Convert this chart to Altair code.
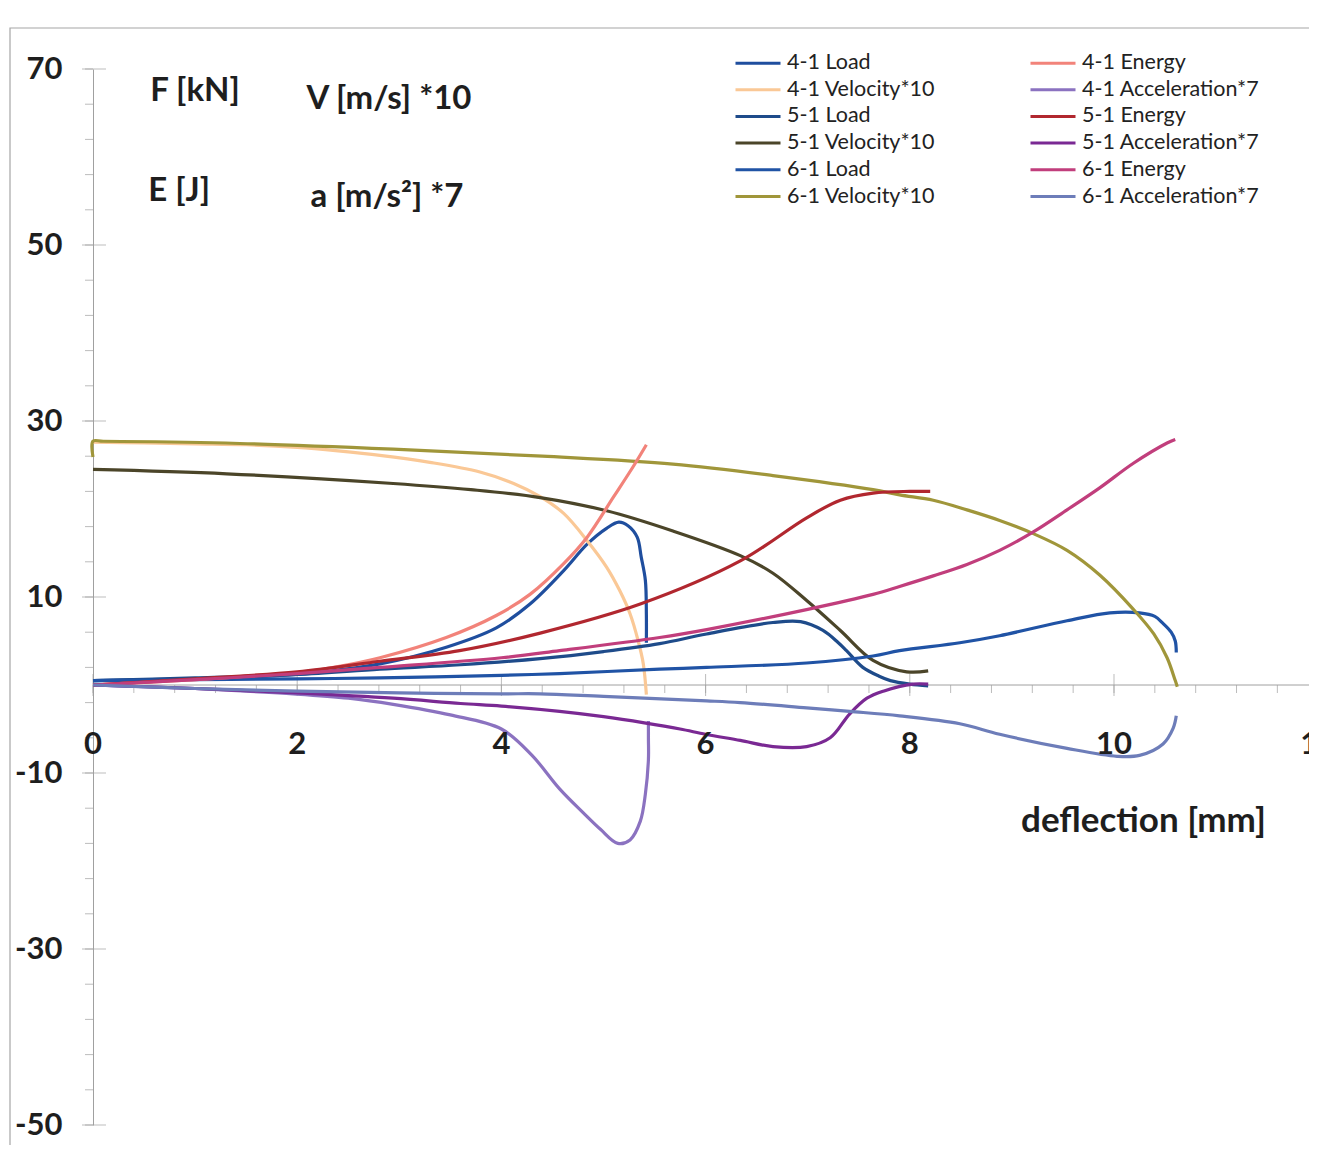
import altair as alt
import pandas as pd

# ---------------- data ----------------
l41_x = [0, 0.5, 1.0, 1.5, 2.0, 2.4, 2.81, 3.46, 3.95, 4.28, 4.61, 4.84, 5.03, 5.15, 5.24, 5.33, 5.37, 5.41, 5.42, 5.42]
l41_y = [0.5, 0.6, 0.7, 0.9, 1.2, 1.7, 2.4, 4.3, 6.5, 9.2, 13.0, 16.0, 17.8, 18.5, 18.1, 16.8, 14.5, 11.9, 8.0, 4.8]

e41_x = [0, 0.5, 1.0, 1.5, 2.0, 2.4, 2.81, 3.46, 3.95, 4.28, 4.61, 4.84, 5.10, 5.29, 5.42]
e41_y = [0.0, 0.3, 0.6, 1.0, 1.4, 2.1, 3.1, 5.4, 7.9, 10.3, 13.8, 16.8, 21.4, 24.8, 27.3]

v41_x = [0, 0.5, 1.0, 1.5, 2.0, 2.4, 2.81, 3.30, 3.79, 4.12, 4.38, 4.61, 4.84, 5.03, 5.16, 5.26, 5.34, 5.39, 5.42]
v41_y = [27.6, 27.5, 27.4, 27.3, 27.0, 26.6, 26.1, 25.3, 24.2, 22.9, 21.4, 19.5, 16.4, 13.4, 10.7, 8.1, 5.0, 2.4, -1.1]

a41_x = [0, 0.5, 1.0, 1.5, 1.96, 2.5, 2.94, 3.5, 4.0, 4.3, 4.57, 4.8, 4.97, 5.14, 5.26, 5.36, 5.41, 5.44, 5.44, 5.44]
a41_y = [0.0, -0.2, -0.4, -0.7, -1.0, -1.5, -2.2, -3.4, -5.0, -8.0, -11.8, -14.5, -16.4, -18.0, -17.6, -15.5, -12.4, -8.5, -6.0, -4.1]

l51_x = [0, 1.0, 2.0, 2.81, 3.6, 4.38, 5.0, 5.55, 6.01, 6.66, 6.93, 7.15, 7.3, 7.38, 7.54, 7.7, 7.81, 8.0, 8.18]
l51_y = [0.5, 0.8, 1.2, 1.8, 2.3, 3.0, 3.8, 4.7, 5.8, 7.1, 7.2, 6.2, 4.8, 3.9, 2.0, 1.0, 0.5, 0.1, -0.1]

e51_x = [0, 1.0, 2.0, 2.81, 3.59, 4.38, 5.36, 6.34, 6.99, 7.32, 7.64, 8.0, 8.2]
e51_y = [0.0, 0.7, 1.5, 2.7, 3.9, 5.9, 9.2, 14.1, 19.0, 21.0, 21.8, 22.0, 22.0]

v51_x = [0, 1.31, 2.94, 3.7, 4.38, 5.03, 5.68, 6.34, 6.66, 6.99, 7.32, 7.64, 7.97, 8.18]
v51_y = [24.5, 24.0, 22.9, 22.2, 21.3, 19.8, 17.5, 14.7, 12.7, 9.6, 6.2, 2.8, 1.5, 1.6]

a51_x = [0, 1.0, 2.0, 2.94, 3.6, 4.0, 4.57, 5.0, 5.4, 5.75, 6.0, 6.34, 6.66, 6.99, 7.22, 7.41, 7.58, 7.74, 8.03, 8.18]
a51_y = [0.0, -0.4, -0.9, -1.5, -2.1, -2.4, -3.0, -3.6, -4.3, -5.0, -5.6, -6.3, -7.0, -7.0, -6.0, -3.3, -1.5, -0.7, 0.1, 0.1]

l61_x = [0, 1.0, 2.0, 2.81, 4.0, 4.57, 5.55, 6.01, 6.99, 7.64, 7.9, 8.49, 8.88, 9.54, 9.96, 10.25, 10.4, 10.48, 10.56, 10.6, 10.61]
l61_y = [0.5, 0.6, 0.7, 0.8, 1.1, 1.3, 1.8, 2.0, 2.5, 3.3, 3.9, 4.8, 5.6, 7.3, 8.2, 8.2, 7.8, 7.0, 6.0, 5.0, 3.7]

e61_x = [0, 1.0, 2.0, 2.81, 4.0, 4.57, 5.55, 6.01, 7.0, 7.64, 7.90, 8.23, 8.56, 8.88, 9.21, 9.54, 9.86, 10.19, 10.52, 10.60]
e61_y = [0.0, 0.6, 1.3, 2.0, 3.1, 3.9, 5.4, 6.3, 8.6, 10.3, 11.2, 12.4, 13.7, 15.3, 17.4, 19.9, 22.4, 25.2, 27.5, 27.9]

v61_x = [0, 0, 0.1, 1.3, 2.94, 4.4, 5.68, 6.66, 7.64, 7.90, 8.23, 8.56, 8.88, 9.21, 9.54, 9.86, 10.19, 10.39, 10.52, 10.60, 10.62]
v61_y = [25.9, 27.7, 27.7, 27.5, 26.8, 26.0, 25.1, 23.8, 22.2, 21.6, 21.0, 19.9, 18.7, 17.2, 15.3, 12.5, 8.6, 5.8, 3.1, 0.5, -0.2]

a61_x = [0, 1.0, 2.0, 3.0, 4.0, 4.38, 5.0, 6.01, 6.34, 6.99, 7.41, 7.9, 8.49, 8.88, 9.54, 10.03, 10.25, 10.48, 10.58, 10.61]
a61_y = [0.0, -0.4, -0.7, -0.9, -1.0, -1.0, -1.3, -1.8, -2.0, -2.6, -3.0, -3.5, -4.4, -5.6, -7.2, -8.1, -8.0, -6.7, -4.9, -3.5]

# legend order (column-major: left column first, then right column)
names = [
    "4-1 Load", "4-1 Velocity*10", "5-1 Load", "5-1 Velocity*10", "6-1 Load", "6-1 Velocity*10",
    "4-1 Energy", "4-1 Acceleration*7", "5-1 Energy", "5-1 Acceleration*7", "6-1 Energy", "6-1 Acceleration*7",
]
colors = [
    "#1f4e9e", "#fac896", "#1e4b8a", "#4b4529", "#2053a5", "#a0963a",
    "#f2837a", "#8b72c0", "#b1272f", "#7a2993", "#c13e7c", "#6d7db9",
]
series_xy = {
    "4-1 Load": (l41_x, l41_y), "4-1 Energy": (e41_x, e41_y),
    "4-1 Velocity*10": (v41_x, v41_y), "4-1 Acceleration*7": (a41_x, a41_y),
    "5-1 Load": (l51_x, l51_y), "5-1 Energy": (e51_x, e51_y),
    "5-1 Velocity*10": (v51_x, v51_y), "5-1 Acceleration*7": (a51_x, a51_y),
    "6-1 Load": (l61_x, l61_y), "6-1 Energy": (e61_x, e61_y),
    "6-1 Velocity*10": (v61_x, v61_y), "6-1 Acceleration*7": (a61_x, a61_y),
}

x_labels = [0, 2, 4, 6, 8, 10, 12]
y_labels = [70, 50, 30, 10, -10, -30, -50]
x_minor = [round(0.4 * k, 1) for k in range(30)]
y_minor = list(range(-50, 71, 4))

ann_text = ["F [kN]", "V [m/s] *10", "E [J]", "a [m/s²] *7"]
ann_x = [0.56, 2.09, 0.54, 2.13]
ann_y = [67.5, 66.6, 56.1, 55.5]

xlabel_text = ["deflection [mm]"]
xlabel_x = [9.09]
xlabel_y = [-15.5]

X_MAX = 11.91  # the visible part of the 0..12 axis

# ---------------- build tables ----------------
rows = []
for n in names:
    xs, ys = series_xy[n]
    for i, (xv, yv) in enumerate(zip(xs, ys)):
        rows.append({"series": n, "i": i, "x": xv, "y": yv})
df = pd.DataFrame(rows)

AX = "#a0a0a0"
FONT = "Lato"
TXT = "#1e1e1e"
X_SCALE = alt.Scale(domain=[0, X_MAX], nice=False, zero=False)
Y_SCALE = alt.Scale(domain=[-50, 70], nice=False, zero=False)
Y_AXIS = alt.Axis(values=y_labels, ticks=False, grid=False, title=None,
                  domainColor=AX, domainWidth=1,
                  labelFont=FONT, labelFontWeight="bold", labelFontSize=31,
                  labelColor=TXT, labelPadding=31,
                  labelExpr="'' + datum.value",
                  labelFlush=False, labelOverlap=False)


def X(field):
    return alt.X(field, scale=X_SCALE, axis=None)


def Y(field):
    return alt.Y(field, scale=Y_SCALE, axis=Y_AXIS)


lines = alt.Chart(df).mark_line(strokeWidth=3.2, clip=False, interpolate="catmull-rom").encode(
    x=X("x:Q"),
    y=Y("y:Q"),
    color=alt.Color("series:N", scale=alt.Scale(domain=names, range=colors),
                    legend=alt.Legend(title=None, orient="none", legendX=641, legendY=-16,
                                      columns=2, symbolType="stroke", symbolSize=2025,
                                      symbolStrokeWidth=3, clipHeight=20,
                                      labelFont=FONT, labelFontSize=21.5, labelColor="#222222",
                                      labelOffset=5, rowPadding=4.7, columnPadding=93,
                                      padding=0, labelLimit=400)),
    order=alt.Order("i:Q"),
)

xaxis_df = pd.DataFrame({"x": [0], "x2": [X_MAX], "zero": [0]})
xaxis_line = alt.Chart(xaxis_df).mark_rule(color=AX, strokeWidth=1).encode(
    x=X("x:Q"), x2="x2:Q", y=Y("zero:Q"))

xminor_df = pd.DataFrame({"x": x_minor, "zero": [0] * len(x_minor)})
xmajor_df = pd.DataFrame({"x": x_labels[:-1], "zero": [0] * (len(x_labels) - 1)})
yminor_df = pd.DataFrame({"y": y_minor, "zero": [0] * len(y_minor)})
ymajor_df = pd.DataFrame({"y": y_labels, "zero": [0] * len(y_labels)})

xminor = alt.Chart(xminor_df).mark_tick(orient="vertical", size=8, thickness=1, color=AX, yOffset=4).encode(
    x=X("x:Q"), y=Y("zero:Q"))
xmajor = alt.Chart(xmajor_df).mark_tick(orient="vertical", size=22, thickness=1, color=AX).encode(
    x=X("x:Q"), y=Y("zero:Q"))
yminor = alt.Chart(yminor_df).mark_tick(orient="horizontal", size=8, thickness=1, color=AX, xOffset=-4).encode(
    y=Y("y:Q"), x=X("zero:Q"))
ymajor = alt.Chart(ymajor_df).mark_tick(orient="horizontal", size=24, thickness=1, color=AX, xOffset=1).encode(
    y=Y("y:Q"), x=X("zero:Q"))

xlab_df = pd.DataFrame({"x": x_labels, "zero": [0] * len(x_labels), "t": [str(v) for v in x_labels]})
xlab = alt.Chart(xlab_df).mark_text(align="center", baseline="middle", dy=60, font=FONT, fontWeight="bold",
                                    fontSize=31, color=TXT, clip=False).encode(
    x=X("x:Q"), y=Y("zero:Q"), text="t:N")

ann_df = pd.DataFrame({"x": ann_x, "y": ann_y, "t": ann_text})
ann = alt.Chart(ann_df).mark_text(align="left", baseline="middle", font=FONT, fontWeight="bold",
                                  fontSize=33, color=TXT).encode(
    x=X("x:Q"), y=Y("y:Q"), text="t:N")

xl_df = pd.DataFrame({"x": xlabel_x, "y": xlabel_y, "t": xlabel_text})
xl = alt.Chart(xl_df).mark_text(align="left", baseline="middle", font=FONT, fontWeight="bold",
                                fontSize=35, color=TXT).encode(
    x=X("x:Q"), y=Y("y:Q"), text="t:N")

frame = alt.Chart(pd.DataFrame({"a": [0]})).mark_rect(fillOpacity=0, stroke="#a6a6a6", strokeWidth=1.2).encode(
    x=alt.value(-83), x2=alt.value(1500), y=alt.value(-41), y2=alt.value(1400))

chart = alt.layer(frame, xaxis_line, xminor, xmajor, yminor, ymajor, lines, xlab, ann, xl).properties(
    width=1216, height=1056,
    autosize=alt.AutoSizeParams(type="none"),
    padding={"left": 85, "top": 61, "right": 0, "bottom": 20},
    background="white",
).configure_view(stroke=None)

chart.save("out.html", embed_options={"renderer": "svg", "actions": False})
